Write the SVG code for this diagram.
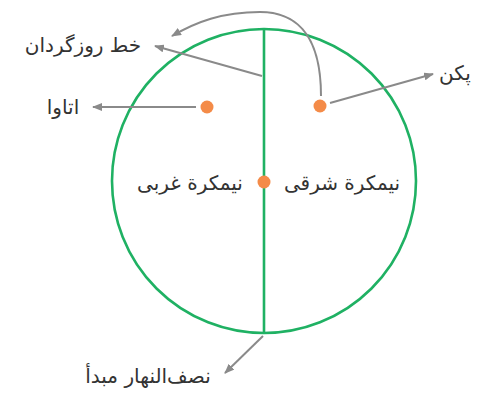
<svg xmlns="http://www.w3.org/2000/svg" width="477" height="393" viewBox="0 0 477 393">
<style>
.lbl{font-family:"DejaVu Sans","Noto Sans",sans-serif;font-size:20px;fill:#333;text-anchor:middle}
.con{fill:none;stroke:#8a8a8a;stroke-width:2}
.dot{fill:#f48b48}
.grn{fill:none;stroke:#1fb163;stroke-width:2.6}
</style>
<defs>
<marker id="ah" markerWidth="10" markerHeight="8" refX="9" refY="4" orient="auto" markerUnits="userSpaceOnUse">
<path d="M0,0 L10,4 L0,8 Z" fill="#8a8a8a"/>
</marker>
</defs>
<rect width="477" height="393" fill="#fff"/>
<g id="globe">
<circle class="grn" cx="264" cy="181" r="152"/>
<line class="grn" x1="264" y1="29" x2="264" y2="333"/>
</g>
<g id="connectors">
<path class="con" d="M262,76 L155,46" marker-end="url(#ah)"/>
<path class="con" d="M321,96 C321,30 292,12 260,12 C222,12 196,22 172,36" marker-end="url(#ah)"/>
<path class="con" d="M330,103 L433,74" marker-end="url(#ah)"/>
<path class="con" d="M196,107 L93,107" marker-end="url(#ah)"/>
<path class="con" d="M263,336 L225,373" marker-end="url(#ah)"/>
</g>
<g id="ottawa"><circle class="dot" cx="207" cy="107" r="6.5"/><text class="lbl" x="63" y="114">اتاوا</text></g>
<g id="peking"><circle class="dot" cx="320" cy="106" r="6.5"/><text class="lbl" x="455" y="80">پکن</text></g>
<g id="center"><circle class="dot" cx="264" cy="182" r="6.5"/></g>
<g id="east"><text class="lbl" x="342" y="190">نیمکرة شرقی</text></g>
<g id="west"><text class="lbl" x="190" y="190">نیمکرة غربی</text></g>
<g id="dateline"><text class="lbl" x="83" y="52">خط روزگردان</text></g>
<g id="meridian"><text class="lbl" x="148" y="383">نصف‌النهار مبدأ</text></g>
</svg>
